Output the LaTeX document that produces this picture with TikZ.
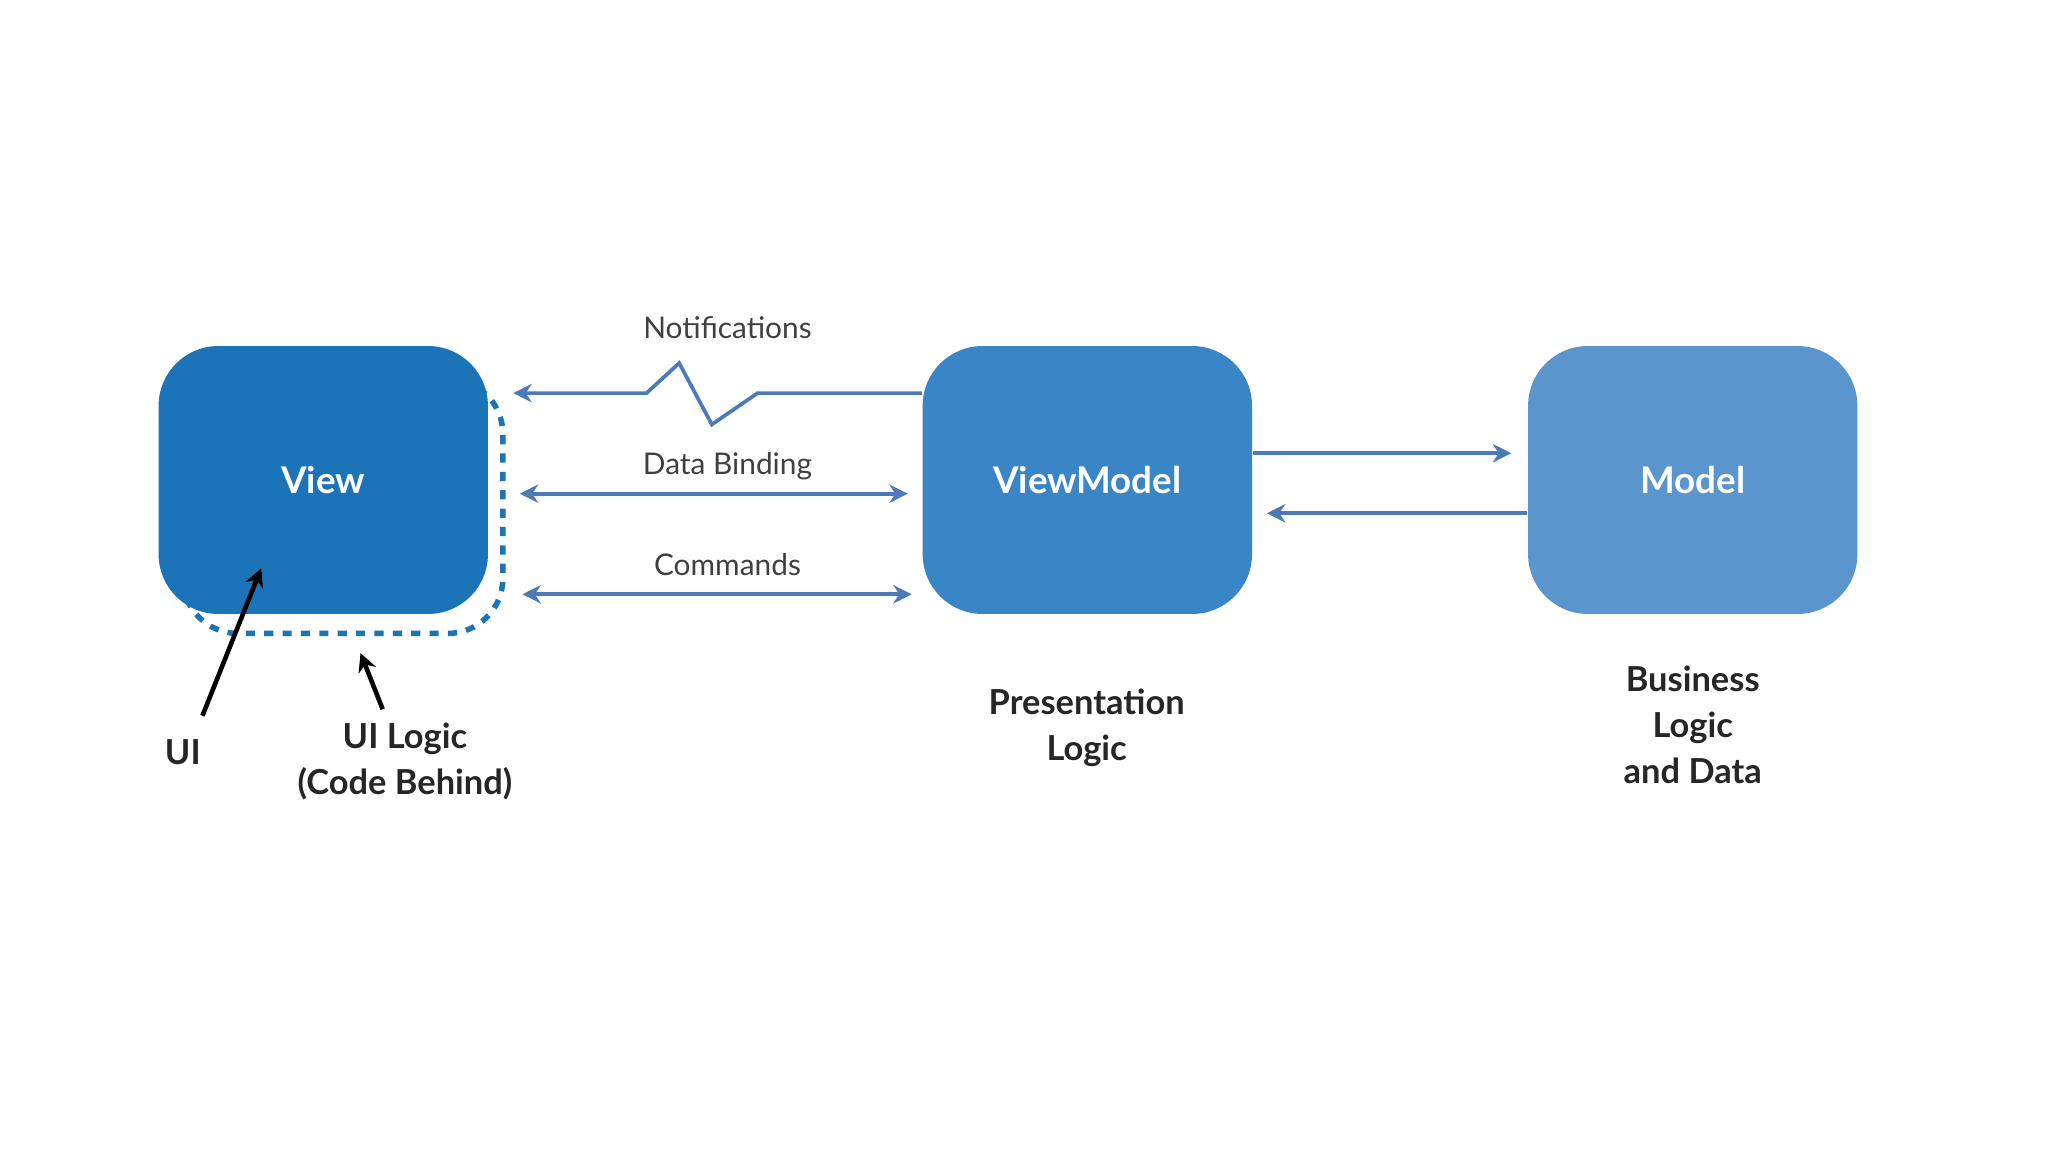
\documentclass[tikz,border=0pt]{standalone}
\usepackage{fontspec}
\setmainfont{Lato}
\usetikzlibrary{arrows.meta}
\definecolor{cview}{HTML}{1B73B8}
\definecolor{cvm}{HTML}{3A85C6}
\definecolor{cmod}{HTML}{5B95CD}
\definecolor{carr}{HTML}{4C79B8}
\begin{document}
\begin{tikzpicture}[x=0.01cm,y=-0.01cm,
  box/.style={rounded corners=13pt,minimum width=2.52cm,minimum height=2.05cm,inner sep=0pt,text=white,font=\fontsize{8}{10}\selectfont\bfseries},
  conn/.style={carr,line width=0.8pt,-{Stealth[length=4pt,width=4pt]}},
  dconn/.style={carr,line width=0.8pt,{Stealth[length=4pt,width=4pt]}-{Stealth[length=4pt,width=4pt]}},
  lab/.style={font=\fontsize{6.5}{8}\selectfont,text=black!75},
  note/.style={font=\fontsize{7.5}{10}\selectfont\bfseries,text=black!85,align=center},
  pointer/.style={black,line width=1pt,-{Stealth[length=4pt,width=4pt]}}]
\useasboundingbox (0,0) rectangle (1568,882);
\fill[white] (0,0) rectangle (1568,882);
\draw[cview,line width=1.2pt,dash pattern=on 2pt off 2pt,rounded corners=12pt] (140,290) rectangle (385,485);
\node[box,fill=cview] (view) at (247.5,367.5) {View};
\node[box,fill=cvm] (vm) at (832.5,367.5) {ViewModel};
\node[box,fill=cmod] (model) at (1296,367.5) {Model};
\coordinate (nl) at (393,301);
\draw[conn] (vm.west |- 0,301) -- (580,301) -- (545,325) -- (520,278) -- (495,301) -- (nl);
\node[lab] (notif) at (557,251) {Notifications};
\coordinate (db1) at (398,378); \coordinate (db2) at (695,378);
\draw[dconn] (db1) -- (db2);
\node[lab] (dbl) at (557,357) {Data Binding};
\coordinate (c1) at (400,455); \coordinate (c2) at (698,455);
\draw[dconn] (c1) -- (c2);
\node[lab] (cl) at (557,432) {Commands};
\coordinate (m1) at (1157,347); \coordinate (m2) at (970,393);
\draw[conn] (vm.east |- m1) -- (m1);
\draw[conn] (model.west |- m2) -- (m2);
\node[note] (ui) at (140,576) {UI};
\coordinate (uit) at (200,435);
\draw[pointer] (155,548) -- (uit);
\node[note] (uil) at (310,583) {UI Logic\\(Code Behind)};
\coordinate (uilt) at (276,500);
\draw[pointer] (293,543) -- (uilt);
\node[note] (pl) at (832,557) {Presentation\\Logic};
\node[note] (bl) at (1296,555) {Business\\Logic\\and Data};
\end{tikzpicture}
\end{document}
